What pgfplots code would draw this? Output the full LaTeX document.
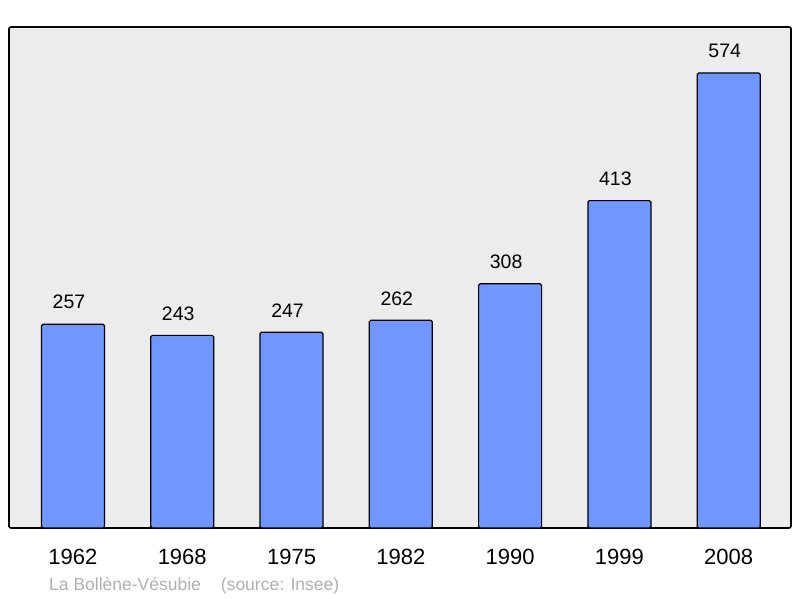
\documentclass[border=0pt]{standalone}
\usepackage{fontspec}
\setmainfont{Liberation Sans}
\usepackage{pgfplots}
\pgfplotsset{compat=1.18}
\definecolor{barblue}{HTML}{7097FF}
\definecolor{bggray}{HTML}{ECECEC}
\definecolor{srcgray}{HTML}{B0B0B0}
\begin{document}
\begin{tikzpicture}[x=1pt,y=1pt]
\path (0,0) rectangle (800,598);
\begin{axis}[
  at={(9pt,70pt)}, anchor=south west,
  scale only axis, width=782pt, height=501pt,
  xmin=-0.585, xmax=6.57, ymin=0, ymax=632,
  axis background/.style={fill=bggray},
  axis line style={line width=1.6pt, rounded corners=2pt},
  ytick=\empty,
  xtick={0,1,2,3,4,5,6},
  xticklabels={1962,1968,1975,1982,1990,1999,2008},
  major tick length=0pt,
  xticklabel style={font=\fontsize{22}{25}\selectfont, anchor=center, yshift=-29pt},
  /pgf/number format/assume math mode=true,
  ybar, bar width=63pt,
  nodes near coords,
  every node near coord/.append style={font=\fontsize{19.5}{22}\selectfont, anchor=center, yshift=22pt, xshift=-4pt, black},
  clip=false,
]
\addplot[fill=barblue, draw=black, line width=1.2pt, rounded corners=1.5pt] coordinates {
(0,257) (1,243) (2,247) (3,262) (4,308) (5,413) (6,574)};
\end{axis}
\node[anchor=west, text=srcgray, font=\fontsize{17.5}{20}\selectfont, inner sep=0pt] at (49,12) {La Bollène-Vésubie\hspace{20pt}(source: Insee)};
\end{tikzpicture}
\end{document}
